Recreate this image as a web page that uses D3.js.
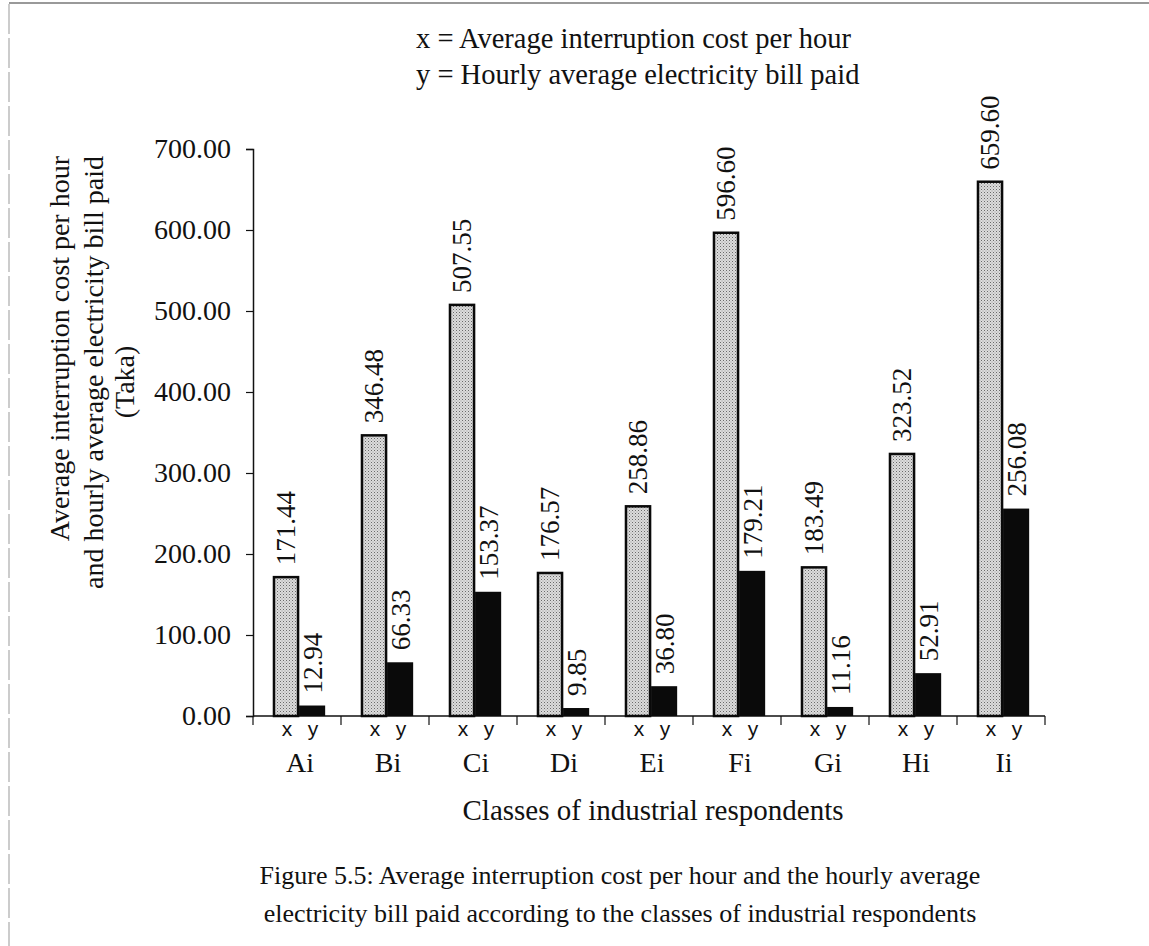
<!DOCTYPE html>
<html>
<head>
<meta charset="utf-8">
<script src="https://cdn.jsdelivr.net/npm/d3@7"></script>
<style>
  body { margin: 0; background: #fff; }
  svg text { font-family: "Liberation Serif", "Times New Roman", serif; fill: #111; }
</style>
</head>
<body>
<svg id="chart" width="1149" height="946"></svg>
<script>
// chart data
const classes = ['Ai', 'Bi', 'Ci', 'Di', 'Ei', 'Fi', 'Gi', 'Hi', 'Ii'];
const interruptionCost = [171.44, 346.48, 507.55, 176.57, 258.86, 596.60, 183.49, 323.52, 659.60];
const billPaid = [12.94, 66.33, 153.37, 9.85, 36.80, 179.21, 11.16, 52.91, 256.08];
const seriesKeys = ['x', 'y'];
const yTicks = [0, 100, 200, 300, 400, 500, 600, 700];

const rows = classes.map((c, i) => ({ cls: c, x: interruptionCost[i], y: billPaid[i] }));

const svg = d3.select('#chart');

// dotted grey pattern like the scanned fill
const defs = svg.append('defs');
const pat = defs.append('pattern')
    .attr('id', 'dots')
    .attr('width', 3).attr('height', 3)
    .attr('patternUnits', 'userSpaceOnUse');
pat.append('rect').attr('width', 3).attr('height', 3).attr('fill', '#dcdcdc');
pat.append('rect').attr('x', 0).attr('y', 0).attr('width', 1).attr('height', 1).attr('fill', '#6a6a6a');
pat.append('rect').attr('x', 1.5).attr('y', 1.5).attr('width', 1).attr('height', 1).attr('fill', '#999');

// page frame lines (scan edges)
svg.append('line').attr('x1', 9).attr('x2', 9).attr('y1', 4).attr('y2', 946)
    .attr('stroke', '#999').attr('stroke-width', 1).attr('stroke-dasharray', '30,4');
svg.append('line').attr('x1', 9).attr('x2', 1149).attr('y1', 3).attr('y2', 3)
    .attr('stroke', '#777').attr('stroke-width', 1.5);

const plotL = 253, plotR = 1045, plotT = 149, plotB = 716;

const y = d3.scaleLinear().domain([0, 700]).range([plotB, plotT]);
const x0 = d3.scaleBand().domain(classes).range([plotL, plotR]).padding(0);
const x1 = d3.scaleBand().domain(seriesKeys)
    .range([x0.bandwidth() * 0.227, x0.bandwidth() * 0.82]).padding(0);

// y axis
const yAxis = d3.axisLeft(y).tickValues(yTicks).tickFormat(d3.format('.2f')).tickSize(7).tickPadding(15);
const gy = svg.append('g').attr('transform', `translate(${plotL},0)`).call(yAxis);
gy.select('.domain').attr('stroke', '#111').attr('stroke-width', 1.5);
gy.selectAll('.tick line').attr('stroke', '#111').attr('stroke-width', 1.2);
gy.selectAll('.tick text').attr('font-size', 28).attr('font-family', 'Liberation Serif').attr('fill', '#111');

// x axis line with ticks at category boundaries
const gx = svg.append('g');
gx.append('line').attr('x1', plotL).attr('x2', plotR).attr('y1', plotB).attr('y2', plotB)
    .attr('stroke', '#111').attr('stroke-width', 1.5);
gx.selectAll('.bt').data(classes.concat(['end'])).enter().append('line')
    .attr('x1', (d, i) => i < classes.length ? x0(d) : plotR)
    .attr('x2', (d, i) => i < classes.length ? x0(d) : plotR)
    .attr('y1', plotB).attr('y2', plotB + 9)
    .attr('stroke', '#111').attr('stroke-width', 1.2);

// bars
const groups = svg.append('g').selectAll('g').data(rows).enter().append('g')
    .attr('transform', d => `translate(${x0(d.cls)},0)`);

groups.selectAll('rect').data(d => seriesKeys.map(k => ({ key: k, value: d[k] }))).enter().append('rect')
    .attr('x', d => x1(d.key) + (d.key === 'x' ? 1 : 0))
    .attr('y', d => y(d.value))
    .attr('width', d => x1.bandwidth() - (d.key === 'x' ? 2 : 0))
    .attr('height', d => plotB - y(d.value))
    .attr('fill', d => d.key === 'x' ? 'url(#dots)' : '#0a0a0a')
    .attr('stroke', '#0a0a0a')
    .attr('stroke-width', d => d.key === 'x' ? 2.5 : 0);

// rotated value labels
groups.selectAll('text.val').data(d => seriesKeys.map(k => ({ key: k, value: d[k] }))).enter().append('text')
    .attr('class', 'val')
    .attr('transform', d => `translate(${x1(d.key) + x1.bandwidth() / 2},${y(d.value) - 12}) rotate(-90)`)
    .attr('dy', '0.35em')
    .attr('text-anchor', 'start')
    .attr('font-size', 27)
    .text(d => d3.format('.2f')(d.value));

// series letters under each bar
groups.selectAll('text.key').data(seriesKeys).enter().append('text')
    .attr('class', 'key')
    .attr('x', k => x1(k) + x1.bandwidth() / 2 + 1)
    .attr('y', plotB + 20)
    .attr('text-anchor', 'middle')
    .attr('font-size', 21)
    .style('font-family', 'Liberation Sans, Arial, sans-serif')
    .text(k => k);

// category labels
groups.append('text')
    .attr('x', x0.bandwidth() / 2 + 3)
    .attr('y', 772)
    .attr('text-anchor', 'middle')
    .attr('font-size', 28)
    .text(d => d.cls);

// legend text at top
const legendLines = ['x = Average interruption cost per hour', 'y = Hourly average electricity bill paid'];
svg.selectAll('text.leg').data(legendLines).enter().append('text')
    .attr('class', 'leg')
    .attr('x', 416).attr('y', (d, i) => 48 + i * 36)
    .attr('font-size', 28.5)
    .text(d => d);

// y axis title (two lines run to the same top end, "(Taka)" centred)
const yTitle = ['Average interruption cost per hour', 'and hourly average electricity bill paid', '(Taka)'];
const yTitleX = [69, 103, 134];
svg.selectAll('text.yt').data(yTitle).enter().append('text')
    .attr('class', 'yt')
    .attr('transform', (d, i) => `translate(${yTitleX[i]},${i < 2 ? 156 : 382}) rotate(-90)`)
    .attr('text-anchor', (d, i) => i < 2 ? 'end' : 'middle')
    .attr('font-size', 28)
    .text(d => d);

// x axis title
svg.append('text')
    .attr('x', 653).attr('y', 820)
    .attr('text-anchor', 'middle')
    .attr('font-size', 29)
    .text('Classes of industrial respondents');

// figure caption
const caption = ['Figure 5.5: Average interruption cost per hour and the hourly average',
    'electricity bill paid according to the classes of industrial respondents'];
svg.selectAll('text.cap').data(caption).enter().append('text')
    .attr('class', 'cap')
    .attr('x', 620).attr('y', (d, i) => 884 + i * 38)
    .attr('text-anchor', 'middle')
    .attr('font-size', 26)
    .text(d => d);
</script>
</body>
</html>
